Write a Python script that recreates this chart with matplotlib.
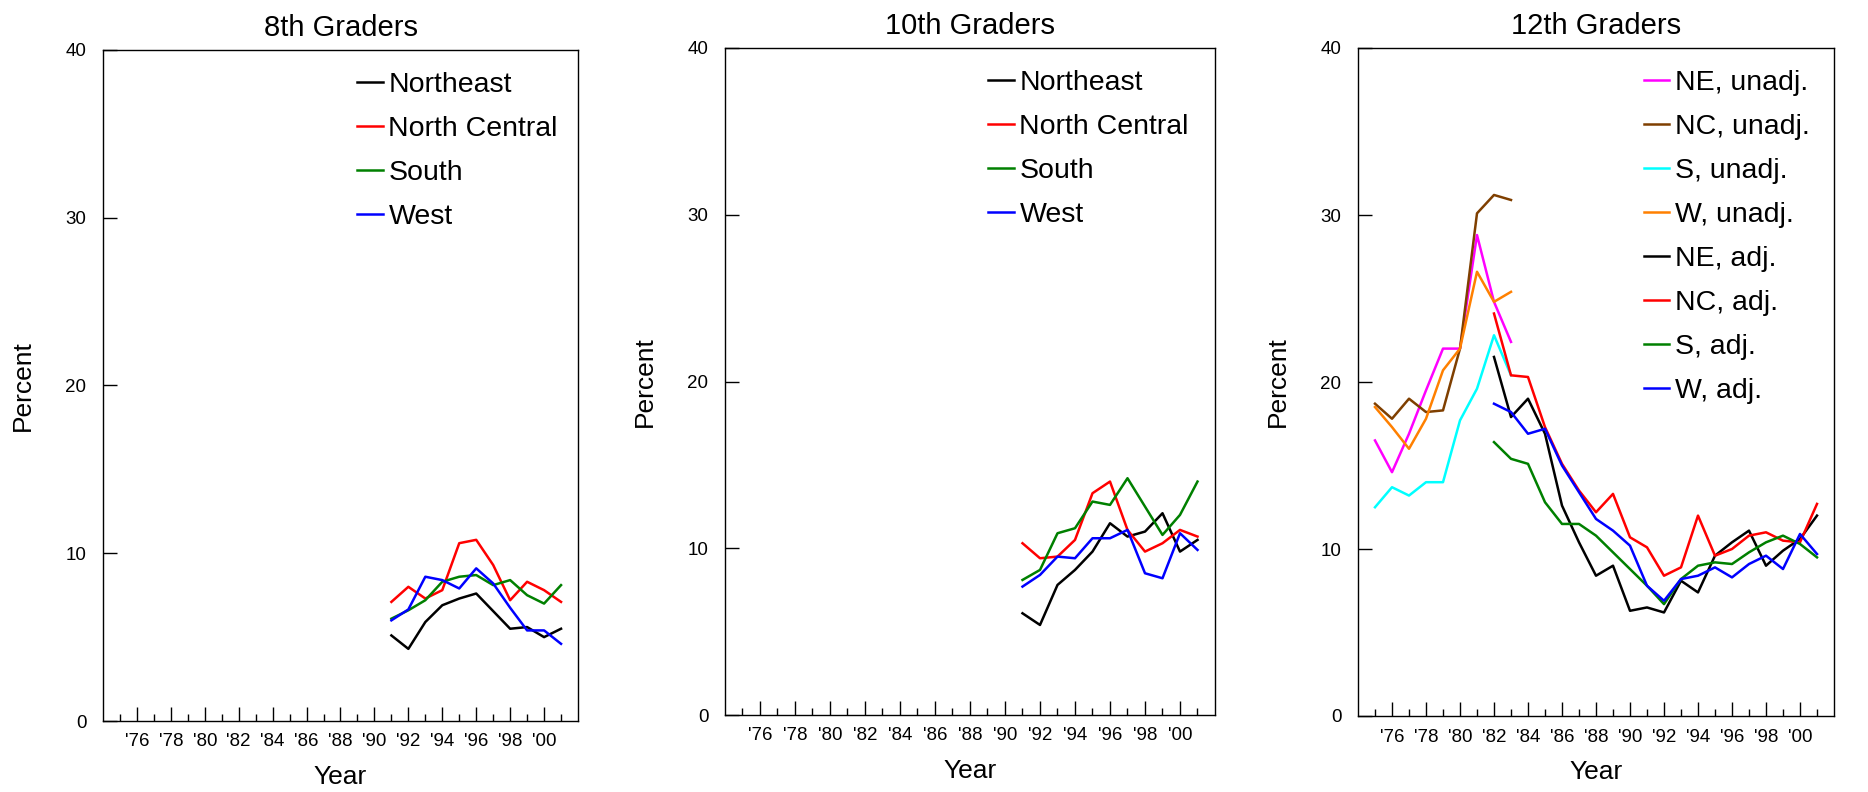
import matplotlib
matplotlib.use("Agg")
import matplotlib.pyplot as plt

plt.rcParams["font.family"] = ["Liberation Sans", "DejaVu Sans"]

# ─── DATA ────────────────────────────────────────────────
YEARS_8_10 = list(range(1991, 2002))

G8_NE = [5.1, 4.3, 5.9, 6.9, 7.3, 7.6, 6.55, 5.5, 5.6, 5.0, 5.5]
G8_NC = [7.1, 8.0, 7.3, 7.8, 10.6, 10.8, 9.3, 7.2, 8.3, 7.8, 7.1]
G8_S = [6.1, 6.6, 7.2, 8.3, 8.6, 8.7, 8.1, 8.4, 7.5, 7.0, 8.1]
G8_W = [6.0, 6.65, 8.6, 8.4, 7.9, 9.1, 8.2, 6.75, 5.4, 5.4, 4.6]

G10_NE = [6.1, 5.4, 7.8, 8.7, 9.8, 11.5, 10.7, 11.0, 12.1, 9.8, 10.5]
G10_NC = [10.3, 9.4, 9.5, 10.5, 13.3, 14.0, 11.1, 9.8, 10.3, 11.1, 10.7]
G10_S = [8.1, 8.7, 10.9, 11.2, 12.8, 12.6, 14.2, 12.5, 10.8, 12.0, 14.0]
G10_W = [7.7, 8.4, 9.5, 9.4, 10.6, 10.6, 11.1, 8.5, 8.2, 10.9, 9.9]

YEARS_UNADJ = list(range(1975, 1984))
G12_NE_UNADJ = [16.5, 14.6, 16.9, 19.5, 22.0, 22.0, 28.8, 24.8, 22.4]
G12_NC_UNADJ = [18.7, 17.8, 19.0, 18.2, 18.3, 22.0, 30.1, 31.2, 30.9]
G12_S_UNADJ = [12.5, 13.7, 13.2, 14.0, 14.0, 17.7, 19.6, 22.8, 20.4]
G12_W_UNADJ = [18.5, 17.3, 16.0, 17.8, 20.7, 22.0, 26.6, 24.8, 25.4]

YEARS_ADJ = list(range(1982, 2002))
G12_NE_ADJ = [21.5, 17.9, 19.0, 16.9, 12.6, 10.4, 8.4, 9.0, 6.3, 6.5, 6.2,
              8.1, 7.4, 9.6, 10.4, 11.1, 9.0, 9.9, 10.6, 12.0]
G12_NC_ADJ = [24.1, 20.4, 20.3, 17.3, 15.1, 13.5, 12.2, 13.3, 10.7, 10.1, 8.4,
              8.9, 12.0, 9.6, 10.0, 10.8, 11.0, 10.5, 10.4, 12.7]
G12_S_ADJ = [16.4, 15.4, 15.1, 12.8, 11.5, 11.5, 10.8, 9.8, 8.8, 7.8, 6.7,
             8.2, 9.0, 9.2, 9.1, 9.8, 10.4, 10.8, 10.3, 9.5]
G12_W_ADJ = [18.7, 18.2, 16.9, 17.2, 15.0, 13.4, 11.8, 11.1, 10.2, 7.8, 6.9,
             8.2, 8.4, 8.9, 8.3, 9.1, 9.6, 8.8, 10.9, 9.7]

REGION_LABELS = ["Northeast", "North Central", "South", "West"]
REGION_COLORS = ["black", "#ff0000", "#008000", "#0000ff"]

G12_LABELS = ["NE, unadj.", "NC, unadj.", "S, unadj.", "W, unadj.",
              "NE, adj.", "NC, adj.", "S, adj.", "W, adj."]
G12_COLORS = ["#ff00ff", "#7f3f00", "#00ffff", "#ff8000",
              "black", "#ff0000", "#008000", "#0000ff"]

XTICKS = list(range(1976, 2001, 2))
XTICK_LABELS = ["'%02d" % (y % 100) for y in XTICKS]

W, H = 1868, 792
# axes boxes in pixels: left, right, top, bottom
BOXES = [(103, 578, 50, 721), (725, 1215, 48, 715), (1358, 1834, 48, 716)]
TITLES = ["8th Graders", "10th Graders", "12th Graders"]
LEGEND_X = [0.535, 0.537, 0.60]


def style_axes(ax, box):
    left, right, top, bottom = box
    ax.set_xlim(1974, 2002)
    ax.set_ylim(0, 40)
    ax.set_yticks([0, 10, 20, 30, 40])
    ax.set_xticks(XTICKS)
    ax.set_xticklabels(XTICK_LABELS)
    ax.set_xticks(range(1975, 2002, 2), minor=True)
    ax.tick_params(axis="x", which="major", direction="in", length=10,
                   width=1, labelsize=13.5, pad=9)
    ax.tick_params(axis="x", which="minor", direction="in", length=5, width=1)
    ax.tick_params(axis="y", direction="in", length=10, width=1,
                   labelsize=13.5, pad=12)
    for sp in ax.spines.values():
        sp.set_linewidth(1.0)
    ax.set_ylabel("Percent", fontsize=19)
    ax.set_xlabel("Year", fontsize=19)
    wpx = right - left
    hpx = bottom - top
    ax.yaxis.set_label_coords(-80 / wpx, 0.5)
    ax.xaxis.set_label_coords(0.5, -56 / hpx)
    ax.xaxis.label.set_va("center")
    ax.yaxis.label.set_va("center")


def main():
    fig = plt.figure(figsize=(W / 100, H / 100), dpi=100)
    axes = []
    for box, title in zip(BOXES, TITLES):
        left, right, top, bottom = box
        ax = fig.add_axes([left / W, 1 - bottom / H,
                           (right - left) / W, (bottom - top) / H])
        style_axes(ax, box)
        ax.set_title(title, fontsize=21, pad=10)
        axes.append(ax)

    lw = 1.8
    for ax, series in [(axes[0], [G8_NE, G8_NC, G8_S, G8_W]),
                       (axes[1], [G10_NE, G10_NC, G10_S, G10_W])]:
        for vals, lab, col in zip(series, REGION_LABELS, REGION_COLORS):
            ax.plot(YEARS_8_10, vals, color=col, lw=lw, label=lab)

    ax = axes[2]
    unadj = [G12_NE_UNADJ, G12_NC_UNADJ, G12_S_UNADJ, G12_W_UNADJ]
    adj = [G12_NE_ADJ, G12_NC_ADJ, G12_S_ADJ, G12_W_ADJ]
    for vals, lab, col in zip(unadj, G12_LABELS[:4], G12_COLORS[:4]):
        ax.plot(YEARS_UNADJ, vals, color=col, lw=lw, label=lab)
    for vals, lab, col in zip(adj, G12_LABELS[4:], G12_COLORS[4:]):
        ax.plot(YEARS_ADJ, vals, color=col, lw=lw, label=lab)

    for ax, lx in zip(axes, LEGEND_X):
        ax.legend(loc="upper left", bbox_to_anchor=(lx, 0.967),
                  frameon=False, fontsize=20.5, handlelength=0.9,
                  handletextpad=0.2, labelspacing=0.63, borderpad=0,
                  borderaxespad=0)

    fig.savefig("out.png", dpi=100)


if __name__ == "__main__":
    main()
